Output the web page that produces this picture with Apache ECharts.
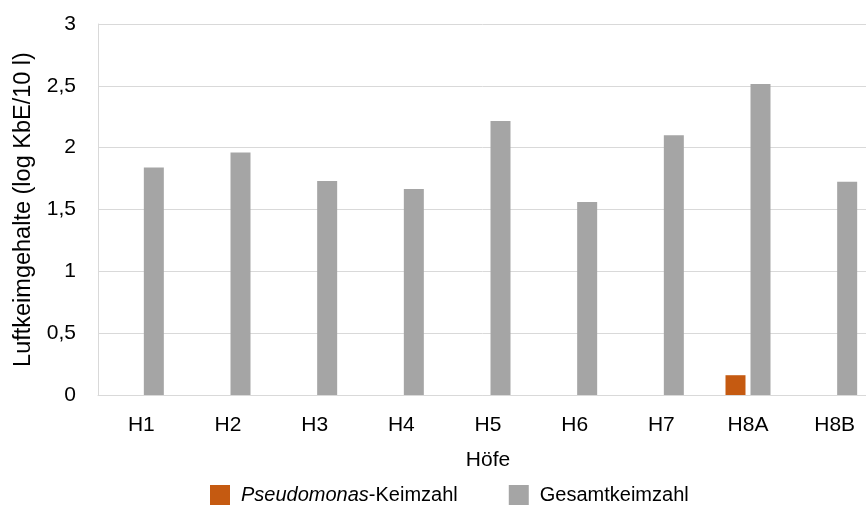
<!DOCTYPE html>
<html>
<head>
<meta charset="utf-8">
<script src="https://cdn.jsdelivr.net/npm/echarts@6/dist/echarts.min.js"></script>
<style>
html,body{margin:0;padding:0;background:#fff;}
#chart{width:866px;height:508px;}
</style>
</head>
<body>
<div id="chart"></div>
<script>
const categories = ['H1','H2','H3','H4','H5','H6','H7','H8A','H8B'];
const pseudomonas = [0, 0, 0, 0, 0, 0, 0, 0.16, 0];
const gesamt = [1.84, 1.96, 1.73, 1.665, 2.215, 1.56, 2.10, 2.515, 1.725];
const yTicks = [0, 0.5, 1, 1.5, 2, 2.5, 3];
const seriesNames = ['Pseudomonas-Keimzahl', 'Gesamtkeimzahl'];

const FONT = '"Liberation Sans", Arial, sans-serif';
const chart = echarts.init(document.getElementById('chart'));
chart.setOption({
  animation: false,
  textStyle: {fontFamily: FONT},
  grid: {left: 98, right: -12, top: 24, bottom: 113, containLabel: false, outerBoundsMode: 'none'},
  legend: {
    top: 480,
    left: 205,
    itemWidth: 20,
    itemHeight: 20,
    itemGap: 51,
    icon: 'rect',
    textStyle: {fontSize: 20, color: '#000', fontFamily: FONT, padding: [0, 0, 0, 6],
      rich: {i: {fontStyle: 'italic', fontSize: 20, color: '#000', fontFamily: FONT}}},
    formatter: function (name) {
      if (name === seriesNames[0]) return '{i|Pseudomonas}-Keimzahl';
      return name;
    },
    data: seriesNames
  },
  xAxis: {
    type: 'category',
    data: categories,
    name: 'Höfe',
    nameLocation: 'middle',
    nameGap: 55,
    nameTextStyle: {fontSize: 21, color: '#000', fontFamily: FONT},
    axisLine: {lineStyle: {color: '#D9D9D9', width: 1}},
    axisTick: {show: false},
    axisLabel: {fontSize: 21, color: '#000', margin: 20, fontFamily: FONT}
  },
  yAxis: {
    type: 'value',
    min: 0,
    max: 3,
    interval: 0.5,
    name: 'Luftkeimgehalte (log KbE/10 l)',
    nameLocation: 'middle',
    nameGap: 62,
    nameRotate: 90,
    nameTextStyle: {fontSize: 23.5, color: '#000', fontFamily: FONT},
    axisLine: {show: true, lineStyle: {color: '#D9D9D9', width: 1}},
    axisTick: {show: false},
    splitLine: {lineStyle: {color: '#D9D9D9', width: 1}},
    axisLabel: {
      fontSize: 21, color: '#000', margin: 22, fontFamily: FONT,
      formatter: v => String(v).replace('.', ',')
    }
  },
  series: [
    {
      name: seriesNames[0], type: 'bar', data: pseudomonas,
      barWidth: 20, barGap: '25%',
      itemStyle: {color: '#C55A11', borderColor: '#A64B0E', borderWidth: 0}
    },
    {
      name: seriesNames[1], type: 'bar', data: gesamt,
      barWidth: 20, barGap: '25%',
      itemStyle: {color: '#A5A5A5', borderColor: '#8F8F8F', borderWidth: 0}
    }
  ]
});
</script>
</body>
</html>
